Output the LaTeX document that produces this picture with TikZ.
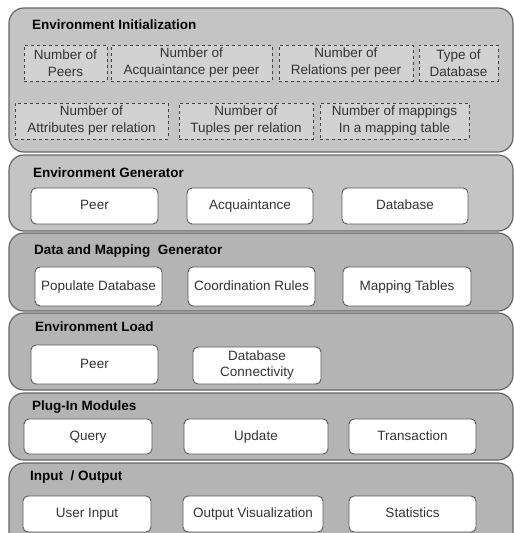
\documentclass[tikz,border=0pt]{standalone}
\usepackage{fontspec}
\setmainfont{Liberation Sans}
\usepackage{tikz}
\definecolor{layerA}{HTML}{C4C4C4}
\definecolor{layerB}{HTML}{B4B4B4}
\definecolor{paramfill}{HTML}{D2D2D2}
\tikzset{
  layer/.style={draw=black!60,line width=1.2pt,rounded corners=15pt,minimum width=504pt,inner sep=0pt},
  layertitle/.style={anchor=west,inner sep=0pt,font=\fontsize{13.5}{16}\selectfont\bfseries},
  item/.style={draw=black!65,line width=0.9pt,fill=white,rounded corners=5pt,inner sep=1pt,align=center,font=\fontsize{13.5}{16}\selectfont,text=black!80},
  itemline/.style={item,text height=10pt,text depth=3pt},
  param/.style={draw=black!75,dashed,line width=0.8pt,fill=paramfill,inner sep=1pt,align=center,font=\fontsize{13.5}{17}\selectfont,text=black!80}
}

\begin{document}
\begin{tikzpicture}[x=1pt,y=-1pt]
\useasboundingbox (0,0) rectangle (514,533);
\clip (0,0) rectangle (514,533);
% layers
\node [layer,fill=layerA,minimum height=144pt] (init) at (261,80) {};
\node [layer,fill=layerA,minimum height=76pt] (gen) at (261,193) {};
\node [layer,fill=layerB,minimum height=78pt] (data) at (261,272) {};
\node [layer,fill=layerB,minimum height=77pt] (load) at (261,351.5) {};
\node [layer,fill=layerB,minimum height=67pt] (plug) at (261,426.5) {};
\node [layer,fill=layerB,minimum height=85pt] (io) at (261,505.5) {};
% titles
\node [layertitle] (initT) at (32,25) {Environment Initialization};
\node [layertitle] (genT) at (33,173) {Environment Generator};
\node [layertitle] (dataT) at (34,251) {Data and Mapping\ \ Generator};
\node [layertitle] (loadT) at (35,327) {Environment Load};
\node [layertitle] (plugT) at (32,407) {Plug-In Modules};
\node [layertitle] (ioT) at (30,477) {Input\ \ / Output};
% environment initialization
\node [param,minimum width=83pt,minimum height=36pt] (nPeers) at (65.5,63) {Number of\\Peers};
\node [param,minimum width=161pt,minimum height=36pt] (nAcq) at (191.5,63) {Number of\\Acquaintance per peer};
\node [param,minimum width=134pt,minimum height=36pt] (nRel) at (346,63) {Number of\\Relations per peer};
\node [param,minimum width=79pt,minimum height=36pt] (dbType) at (458.5,63) {Type of\\Database};
\node [param,minimum width=153pt,minimum height=36pt] (nAttr) at (91.5,121) {Number of\\Attributes per relation};
\node [param,minimum width=134pt,minimum height=36pt] (nTup) at (246,121) {Number of\\Tuples per relation};
\node [param,minimum width=149pt,minimum height=36pt] (nMap) at (394.5,121) {Number of mappings\\In a mapping table};
% environment generator
\node [itemline,minimum width=127pt,minimum height=36pt] (genPeer) at (94.5,206) {Peer};
\node [itemline,minimum width=126pt,minimum height=36pt] (genAcq) at (250,206) {Acquaintance};
\node [itemline,minimum width=126pt,minimum height=36pt] (genDb) at (405,206) {Database};
% data and mapping generator
\node [itemline,minimum width=127pt,minimum height=39pt] (popDb) at (98.5,286.5) {Populate Database};
\node [itemline,minimum width=127pt,minimum height=39pt] (coRules) at (251.5,286.5) {Coordination Rules};
\node [itemline,minimum width=128pt,minimum height=39pt] (mapTab) at (407,286.5) {Mapping Tables};
% environment load
\node [itemline,minimum width=127pt,minimum height=39pt] (loadPeer) at (94.5,364.5) {Peer};
\node [item,minimum width=128pt,minimum height=37pt] (dbConn) at (257,365.5) {Database\\Connectivity};
% plug-in modules
\node [itemline,minimum width=128pt,minimum height=35pt] (query) at (88,436.5) {Query};
\node [itemline,minimum width=144pt,minimum height=35pt] (update) at (256,436.5) {Update};
\node [itemline,minimum width=127pt,minimum height=35pt] (trans) at (412.5,436.5) {Transaction};
% input / output
\node [itemline,minimum width=128pt,minimum height=36pt] (userIn) at (87,514) {User Input};
\node [itemline,minimum width=140pt,minimum height=36pt] (outVis) at (253,514) {Output Visualization};
\node [itemline,minimum width=127pt,minimum height=36pt] (stats) at (412.5,514) {Statistics};
\end{tikzpicture}
\end{document}
